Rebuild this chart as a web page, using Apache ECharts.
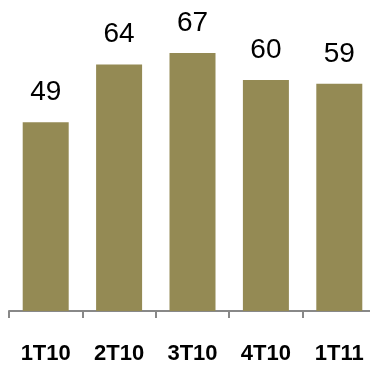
<!DOCTYPE html>
<html>
<head>
<meta charset="utf-8">
<script src="https://cdn.jsdelivr.net/npm/echarts@6/dist/echarts.min.js"></script>
<style>
  html, body { margin: 0; padding: 0; background: #fff; }
  #chart { width: 370px; height: 365px; }
</style>
</head>
<body>
<div id="chart"></div>
<script>
var categories = ['1T10', '2T10', '3T10', '4T10', '1T11']
var values = [49, 64, 67, 60, 59]

var chart = echarts.init(document.getElementById('chart'))
chart.setOption({
  animation: false,
  // the last category runs past the right edge of the picture
  grid: { left: 9, width: 367, top: 3, bottom: 54, outerBoundsMode: 'none' },
  xAxis: {
    type: 'category',
    data: categories,
    axisLine: { lineStyle: { color: '#888888', width: 2 } },
    axisTick: { show: true, length: 7, lineStyle: { color: '#888888', width: 2 } },
    axisLabel: {
      margin: 32,
      color: '#000',
      fontFamily: 'Liberation Sans',
      fontWeight: 'bold',
      fontSize: 22
    }
  },
  yAxis: {
    type: 'value',
    min: 0,
    max: 80,
    show: false
  },
  series: [{
    type: 'bar',
    data: values,
    barWidth: 46,
    itemStyle: { color: '#948A54' },
    label: {
      show: true,
      position: 'top',
      distance: 16,
      color: '#000',
      fontFamily: 'Liberation Sans',
      fontSize: 28
    }
  }]
})
</script>
</body>
</html>
